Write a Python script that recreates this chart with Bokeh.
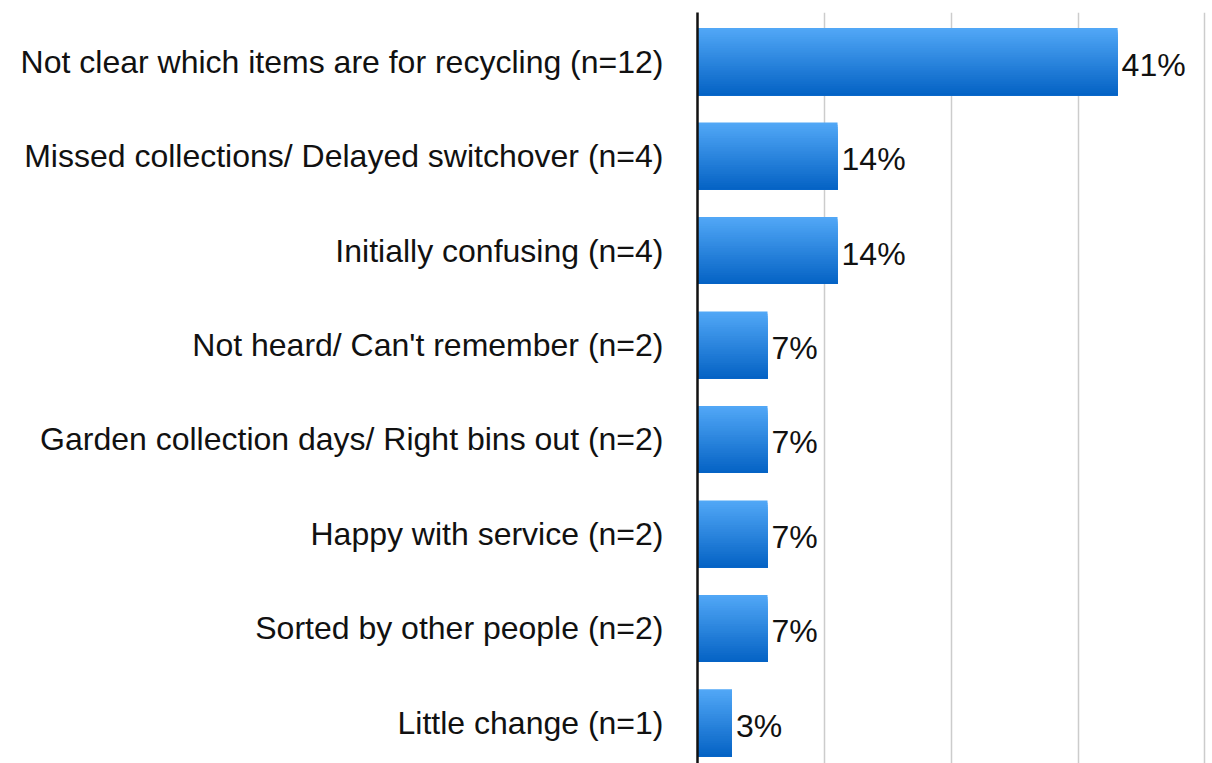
from bokeh.plotting import figure
from bokeh.models import Range1d, FixedTicker, ColumnDataSource
from bokeh.core.properties import value
from bokeh.embed import file_html
from bokeh.resources import INLINE

categories = [
    "Not clear which items are for recycling (n=12)",
    "Missed collections/ Delayed switchover (n=4)",
    "Initially confusing (n=4)",
    "Not heard/ Can't remember (n=2)",
    "Garden collection days/ Right bins out (n=2)",
    "Happy with service (n=2)",
    "Sorted by other people (n=2)",
    "Little change (n=1)",
]
percents = [41.4, 13.8, 13.8, 6.9, 6.9, 6.9, 6.9, 3.4]
value_labels = ["41%", "14%", "14%", "7%", "7%", "7%", "7%", "3%"]
grid_ticks = [12.5, 25, 37.5, 50]

FONT = "Liberation Sans"
positions = list(range(len(categories)))

p = figure(width=1212, height=763, output_backend="svg", toolbar_location=None,
           x_range=Range1d(0, 50.75), y_range=Range1d(7.43, -0.52))
p.min_border_left = 697
p.min_border_right = 0
p.min_border_top = 12
p.min_border_bottom = 0
p.outline_line_color = None
p.background_fill_color = "white"

# gradient bars: overlapping strips, each reaching to the bar bottom
bar_h = 0.71
N = 30
top_rgb = (0x52, 0xa8, 0xf7)
bot_rgb = (0x04, 0x62, 0xc4)
ys, rights, hs, cols = [], [], [], []
for pos, v in zip(positions, percents):
    bottom = pos + bar_h / 2
    for k in range(N):
        top = pos - bar_h / 2 + k * bar_h / N
        t = (k + 0.5) / N
        c = tuple(int(round(a + (b - a) * t)) for a, b in zip(top_rgb, bot_rgb))
        ys.append((top + bottom) / 2)
        rights.append(v)
        hs.append(bottom - top)
        cols.append("#%02x%02x%02x" % c)
src = ColumnDataSource(dict(y=ys, right=rights, h=hs, c=cols))
p.hbar(y="y", left=0, right="right", height="h", fill_color="c", line_color=None, source=src)

lab = ColumnDataSource(dict(x=percents, y=positions, t=value_labels))
p.text(x="x", y="y", text="t", source=lab, x_offset=4, y_offset=3,
       text_font=value(FONT), text_font_size="32px", text_baseline="middle",
       text_align="left", text_color="#111111")

p.xaxis.visible = False
p.xgrid.ticker = FixedTicker(ticks=grid_ticks)
p.xgrid.grid_line_color = "#cccccc"
p.xgrid.grid_line_width = 1.5
p.ygrid.grid_line_color = None

p.yaxis.ticker = FixedTicker(ticks=positions)
p.yaxis.major_label_overrides = {i: c for i, c in zip(positions, categories)}
p.yaxis.major_label_text_font = FONT
p.yaxis.major_label_text_font_size = "32px"
p.yaxis.major_label_text_color = "#111111"
p.yaxis.major_label_standoff = 28
p.yaxis.major_tick_line_color = None
p.yaxis.minor_tick_line_color = None
p.yaxis.axis_line_color = "#111111"
p.yaxis.axis_line_width = 2.5

open("out.html", "w").write(file_html(p, INLINE))
